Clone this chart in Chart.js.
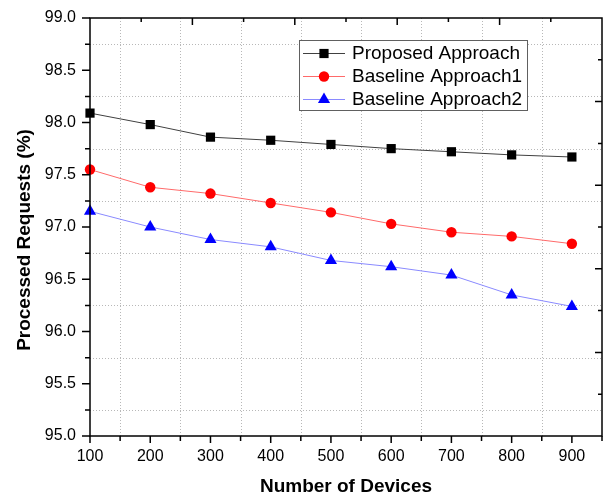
<!DOCTYPE html>
<html><head><meta charset="utf-8">
<script src="https://cdn.jsdelivr.net/npm/chart.js@4/dist/chart.umd.min.js"></script>
<style>html,body{margin:0;padding:0;background:#fff}#wrap{width:611px;height:498px}</style>
</head><body><div id="wrap"><canvas id="c" width="611" height="498"></canvas></div>
<script>
const devices   = [100, 200, 300, 400, 500, 600, 700, 800, 900];
const proposed  = [98.09, 97.98, 97.86, 97.83, 97.79, 97.75, 97.72, 97.69, 97.67];
const baseline1 = [97.55, 97.38, 97.32, 97.23, 97.14, 97.03, 96.95, 96.91, 96.84];
const baseline2 = [97.15, 97.00, 96.88, 96.81, 96.68, 96.62, 96.54, 96.35, 96.24];
const seriesNames = ['Proposed Approach', 'Baseline Approach1', 'Baseline Approach2'];
const xTicks = [100, 200, 300, 400, 500, 600, 700, 800, 900];
const yTicks = [95.0, 95.5, 96.0, 96.5, 97.0, 97.5, 98.0, 98.5, 99.0];
const xTitle = 'Number of Devices';
const yTitle = 'Processed Requests (%)';

const tickFont = {family: "'Liberation Sans Narrow','Arial Narrow','Liberation Sans',Arial,sans-serif", size: 16};

function drawMarker(ctx, style, x, y, r, color) {
  ctx.save();
  ctx.fillStyle = color;
  ctx.beginPath();
  if (style === 'rect') {
    const s = r * Math.SQRT1_2;
    ctx.rect(x - s, y - s, 2 * s, 2 * s);
  } else if (style === 'circle') {
    ctx.arc(x, y, r, 0, Math.PI * 2);
  } else {
    const w = r * Math.sqrt(3) / 2;
    ctx.moveTo(x, y - r);
    ctx.lineTo(x + w, y + r / 2);
    ctx.lineTo(x - w, y + r / 2);
    ctx.closePath();
  }
  ctx.fill();
  ctx.restore();
}

const framePlugin = {
  id: 'frame',
  beforeDatasetsDraw(chart) {
    const {ctx, chartArea: a, scales: {x, y}} = chart;
    ctx.save();
    ctx.strokeStyle = '#b8b8b8';
    ctx.lineWidth = 1;
    ctx.setLineDash([1, 2]);
    for (let i = 0; i < xTicks.length; i++) {
      const px = Math.round(x.getPixelForValue(xTicks[i] + 50)) + 0.5;
      if (px >= a.right - 1) continue;
      ctx.beginPath(); ctx.moveTo(px, a.top); ctx.lineTo(px, a.bottom); ctx.stroke();
    }
    for (let i = 0; i < yTicks.length - 1; i++) {
      const py = Math.round(y.getPixelForValue(yTicks[i] + 0.25)) + 0.5;
      ctx.beginPath(); ctx.moveTo(a.left, py); ctx.lineTo(a.right, py); ctx.stroke();
    }
    ctx.restore();
  },
  afterDatasetsDraw(chart) {
    const {ctx, chartArea: a, scales: {x, y}} = chart;
    ctx.save();
    ctx.strokeStyle = '#000';
    ctx.lineWidth = 1.5;
    ctx.setLineDash([]);
    ctx.strokeRect(a.left, a.top, a.right - a.left, a.bottom - a.top);
    ctx.beginPath();
    for (const v of xTicks) {
      const px = x.getPixelForValue(v);
      ctx.moveTo(px, a.bottom); ctx.lineTo(px, a.bottom + 7);
      const pm = x.getPixelForValue(v + 50);
      ctx.moveTo(pm, a.bottom); ctx.lineTo(pm, a.bottom + 5);
    }
    for (let i = 0; i < yTicks.length; i++) {
      const py = y.getPixelForValue(yTicks[i]);
      ctx.moveTo(a.left, py); ctx.lineTo(a.left - 8, py);
      if (i < yTicks.length - 1) {
        const pm = y.getPixelForValue(yTicks[i] + 0.25);
        ctx.moveTo(a.left, pm); ctx.lineTo(a.left - 5, pm);
      }
    }
    const w = a.right - a.left, h = a.bottom - a.top;
    for (let k = 1; k < 10; k++) {
      const len = (k % 2 === 0) ? 7 : 4;
      const px = a.left + w * k / 10;
      ctx.moveTo(px, a.top); ctx.lineTo(px, a.top + len);
      const py = a.top + h * k / 10;
      ctx.moveTo(a.right, py); ctx.lineTo(a.right - len, py);
    }
    ctx.stroke();
    ctx.restore();
  },
  afterDraw(chart) {
    const {ctx, chartArea: a} = chart;
    ctx.save();
    ctx.fillStyle = '#000';
    ctx.font = "bold 19px 'Liberation Sans', Arial, sans-serif";
    ctx.textAlign = 'center';
    ctx.textBaseline = 'middle';
    ctx.fillText(xTitle, (a.left + a.right) / 2, 487);
    ctx.save();
    ctx.translate(25, 240);
    ctx.rotate(-Math.PI / 2);
    ctx.fillText(yTitle, 0, 0);
    ctx.restore();
    const bx = 299.5, by = 40.5, bw = 228, bh = 70;
    ctx.fillStyle = '#fff';
    ctx.fillRect(bx, by, bw, bh);
    ctx.strokeStyle = '#606060';
    ctx.lineWidth = 1;
    ctx.strokeRect(bx, by, bw, bh);
    ctx.font = "19px 'Liberation Sans', Arial, sans-serif";
    ctx.textAlign = 'left';
    const rows = [53, 76, 99];
    chart.data.datasets.forEach((ds, i) => {
      const ry = rows[i];
      ctx.strokeStyle = ds.borderColor;
      ctx.lineWidth = 1;
      ctx.beginPath(); ctx.moveTo(303, ry + 0.5); ctx.lineTo(345, ry + 0.5); ctx.stroke();
      drawMarker(ctx, ds.pointStyle, 324, ry + 0.5, ds.pointRadius, ds.pointBackgroundColor);
      ctx.fillStyle = '#000';
      ctx.fillText(ds.label, 352, ry + 1);
    });
    ctx.restore();
  }
};

function mk(values, i, line, mark, style, r) {
  return {
    label: seriesNames[i],
    data: devices.map((d, j) => ({x: d, y: values[j]})),
    borderColor: line, borderWidth: 1,
    pointStyle: style, pointRadius: r, pointHoverRadius: r,
    pointBackgroundColor: mark, pointBorderColor: mark, pointBorderWidth: 0,
    tension: 0, fill: false, clip: false
  };
}

new Chart(document.getElementById('c'), {
  type: 'line',
  data: {
    datasets: [
      mk(proposed, 0, '#404040', '#000000', 'rect', 6.5),
      mk(baseline1, 1, '#ff6a6a', '#ff0000', 'circle', 5.2),
      mk(baseline2, 2, '#8a8aff', '#0000ff', 'triangle', 7)
    ]
  },
  options: {
    responsive: false, devicePixelRatio: 1, animation: false,
    layout: {padding: {top: 18, right: 9, left: 0, bottom: 0}},
    plugins: {legend: {display: false}, tooltip: {enabled: false}},
    scales: {
      x: {
        type: 'linear', min: 100, max: 950,
        afterBuildTicks: s => { s.ticks = xTicks.map(v => ({value: v})); },
        afterFit: s => { s.height = 62; s.paddingLeft = 0; s.paddingRight = 0; },
        grid: {display: false, drawTicks: false, tickLength: 0},
        border: {display: false},
        ticks: {font: tickFont, color: '#000', padding: 11, maxRotation: 0, autoSkip: false, callback: v => String(v)}
      },
      y: {
        type: 'linear', min: 95, max: 99,
        afterBuildTicks: s => { s.ticks = yTicks.map(v => ({value: v})); },
        afterFit: s => { s.width = 90; s.paddingTop = 0; s.paddingBottom = 0; },
        grid: {display: false, drawTicks: false, tickLength: 0},
        border: {display: false},
        ticks: {font: tickFont, color: '#000', padding: 14, autoSkip: false, callback: v => Number(v).toFixed(1)}
      }
    }
  },
  plugins: [framePlugin]
});
</script>
</body></html>
